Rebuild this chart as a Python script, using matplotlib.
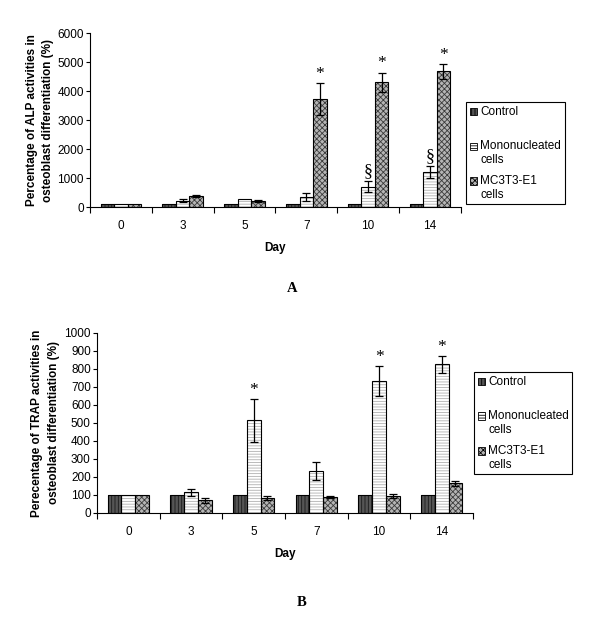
import numpy as np
import matplotlib
matplotlib.use("Agg")
import matplotlib.pyplot as plt
from matplotlib.patches import Patch, Rectangle
from matplotlib.legend_handler import HandlerPatch

plt.rcParams['font.family'] = ['Liberation Sans', 'DejaVu Sans']
plt.rcParams['hatch.linewidth'] = 0.6

days = ['0', '3', '5', '7', '10', '14']
# trailing newline on Control keeps the Excel-like gap under it
series = ['Control\n', 'Mononucleated\ncells', 'MC3T3-E1\ncells']

# panel A - ALP
alp_control = [100, 100, 100, 100, 100, 100]
alp_control_err = [0, 0, 0, 0, 0, 0]
alp_mono = [100, 220, 270, 350, 700, 1200]
alp_mono_err = [0, 50, 0, 150, 190, 200]
alp_mc = [100, 390, 210, 3720, 4300, 4680]
alp_mc_err = [0, 30, 30, 550, 330, 250]
alp_star = ['', '', '', '*', '*', '*']      # above MC3T3-E1
alp_mono_mark = ['', '', '', '', '§', '§']  # above mononucleated

# panel B - TRAP
trap_control = [100, 100, 100, 100, 100, 100]
trap_control_err = [0, 0, 0, 0, 0, 0]
trap_mono = [100, 115, 515, 232, 732, 825]
trap_mono_err = [0, 20, 118, 50, 83, 45]
trap_mc = [100, 70, 83, 88, 93, 165]
trap_mc_err = [0, 15, 10, 4, 10, 15]
trap_star = ['', '', '*', '', '*', '*']     # above mononucleated

styles = [
    dict(face='#555555', hatch='|||||', hcol='#1a1a1a'),
    dict(face='white', hatch='------', hcol='#b0b0b0'),
    dict(face='#b5b5b5', hatch='xxxxxx', hcol='#3a3a3a'),
]
width = 0.22


def draw_panel(ax, vals, errs, ymax, ystep):
    x = np.arange(len(days)) + 0.5
    for i, (v, e) in enumerate(zip(vals, errs)):
        st = styles[i]
        xi = x + (i - 1) * width
        ax.bar(xi, v, width, color=st['face'], edgecolor=st['hcol'],
               hatch=st['hatch'], linewidth=0, zorder=2)
        ax.bar(xi, v, width, fill=False, edgecolor='black', linewidth=0.8, zorder=3)
        e = np.array(e, dtype=float)
        m = e > 0
        ax.errorbar(xi[m], np.array(v)[m], yerr=e[m], fmt='none', ecolor='black',
                    elinewidth=0.9, capsize=3, capthick=0.9, zorder=4)
    ax.set_xlim(0, len(days))
    ax.set_ylim(0, ymax)
    ax.set_yticks(np.arange(0, ymax + 1, ystep))
    ax.set_xticks(np.arange(0, len(days) + 1))
    ax.set_xticklabels([])
    ax.set_xticks(x, minor=True)
    ax.set_xticklabels(days, minor=True)
    ax.tick_params(axis='x', which='major', direction='out', length=4, width=0.8)
    ax.tick_params(axis='x', which='minor', length=0, pad=9.5, labelsize=8.5)
    ax.tick_params(axis='y', direction='out', length=3, width=0.8, pad=1.5, labelsize=8.5)
    for s in ['top', 'right']:
        ax.spines[s].set_visible(False)
    for s in ['left', 'bottom']:
        ax.spines[s].set_linewidth(0.8)
    ax.set_xlabel('Day', fontweight='bold', fontsize=8.5, labelpad=7)
    return x


def mark(ax, xs, tops, marks, size=12.5):
    for xi, t, mk in zip(xs, tops, marks):
        if mk:
            ax.annotate(mk, (xi, t), xytext=(0, 1), textcoords='offset points',
                        ha='center', va='bottom', fontsize=size,
                        family='Liberation Serif')


def first_line_patch(legend, orig_handle, xdescent, ydescent, width, height, fontsize):
    # put the key next to the first text line instead of the middle
    return Rectangle((-xdescent, -ydescent + 0.62 * fontsize), width, height)


def legend(fig, x0, y0):
    handles = [Patch(facecolor=st['face'], edgecolor='black', hatch=st['hatch'],
                     linewidth=0.6) for st in styles]
    lg = fig.legend(handles, series, loc='upper left', bbox_to_anchor=(x0, y0),
                    fontsize=8.5, frameon=True, fancybox=False, framealpha=1,
                    edgecolor='black', handlelength=0.6, handleheight=0.6,
                    handletextpad=0.3, labelspacing=0.75, borderpad=0.3,
                    borderaxespad=0,
                    handler_map={Patch: HandlerPatch(patch_func=first_line_patch)})
    lg.get_frame().set_linewidth(0.8)


fig = plt.figure(figsize=(6.0, 6.39), dpi=100)

axA = fig.add_axes([0.150, 0.676, 0.618, 0.2723])
xA = draw_panel(axA, [alp_control, alp_mono, alp_mc],
                [alp_control_err, alp_mono_err, alp_mc_err], 6000, 1000)
axA.set_ylabel('Percentage of ALP activities in\nosteoblast differentiation (%)',
               fontweight='bold', fontsize=8.5, labelpad=2, linespacing=1.55)
mark(axA, xA + width, np.array(alp_mc) + np.array(alp_mc_err), alp_star)
mark(axA, xA, np.array(alp_mono) + np.array(alp_mono_err), alp_mono_mark, size=13)
legend(fig, 0.777, 0.840)
fig.text(292 / 600, 1 - 289 / 639, 'A', family='Liberation Serif', fontweight='bold',
         fontsize=10.5, ha='center', va='center')

axB = fig.add_axes([0.1617, 0.1972, 0.6267, 0.2817])
xB = draw_panel(axB, [trap_control, trap_mono, trap_mc],
                [trap_control_err, trap_mono_err, trap_mc_err], 1000, 100)
axB.set_ylabel('Perecentage of TRAP activities in\nosteoblast differentiation (%)',
               fontweight='bold', fontsize=8.5, labelpad=3, linespacing=1.55)
mark(axB, xB, np.array(trap_mono) + np.array(trap_mono_err), trap_star)
legend(fig, 0.790, 1 - 372 / 639)
fig.text(302 / 600, 1 - 602 / 639, 'B', family='Liberation Serif', fontweight='bold',
         fontsize=10.5, ha='center', va='center')

fig.savefig('out.png', dpi=100)
